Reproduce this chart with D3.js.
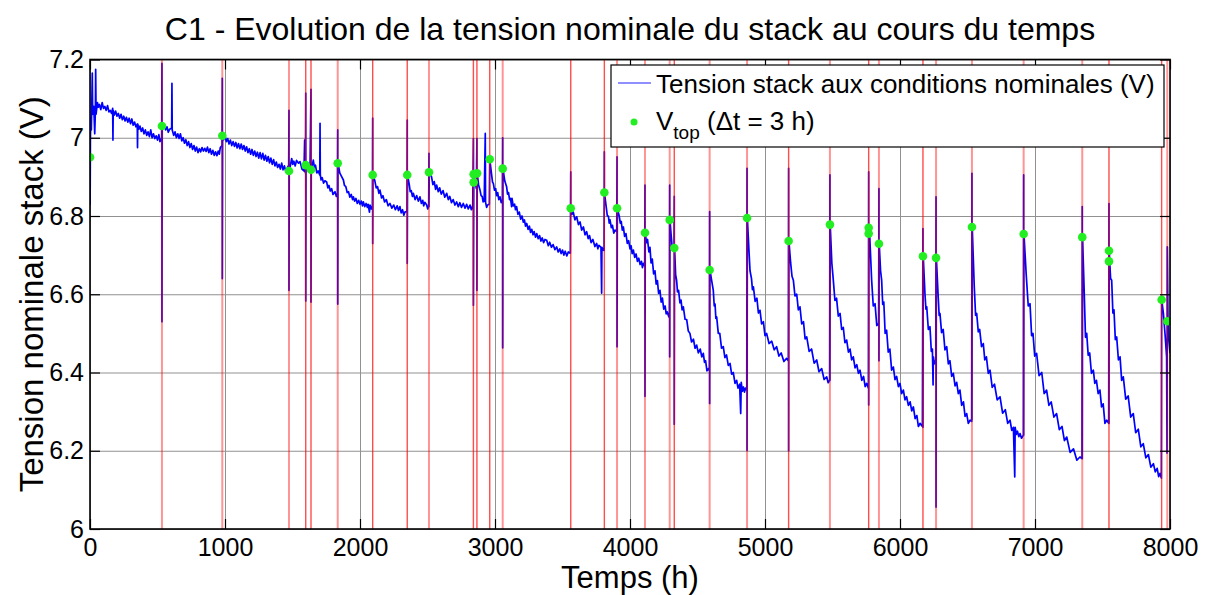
<!DOCTYPE html>
<html>
<head>
<meta charset="utf-8">
<script src="https://cdn.jsdelivr.net/npm/d3@7"></script>
<style>
  body { margin: 0; background: #fff; }
  text { font-family: "Liberation Sans", Arial, sans-serif; fill: #000; }
</style>
</head>
<body>
<div id="chart"></div>
<script>
// stack voltage at nominal conditions, [hours, volts]
const tension = [
  [0, 6.95], [1, 6.83], [3, 7.0], [6, 7.05], [10, 7.02], [17, 7.165], [20, 7.06], [28, 7.08], [35, 7.01], [40, 7.07],
  [42, 7.175], [45, 7.06], [55, 7.09], [62, 7.078], [70, 7.085], [80, 7.072], [90, 7.09], [100, 7.075], [110, 7.08],
  [120, 7.07], [130, 7.082], [140, 7.066], [150, 7.07], [160, 7.062], [168, 7.075],
  [170, 6.994], [172, 7.07], [180, 7.058], [190, 7.068], [200, 7.055], [210, 7.062], [220, 7.05], [230, 7.06],
  [240, 7.046], [250, 7.055], [260, 7.043], [270, 7.052], [280, 7.04], [290, 7.05], [300, 7.036],
  [310, 7.048], [320, 7.032], [330, 7.04], [340, 7.028], [350, 7.035], [352, 6.975], [354, 7.035], [362, 7.022],
  [370, 7.03], [380, 7.016], [390, 7.025], [400, 7.01], [410, 7.02], [420, 7.006],
  [430, 7.015], [440, 7.003], [450, 7.02], [460, 7.0], [470, 7.01], [480, 6.998], [490, 7.005], [500, 6.994],
  [510, 7.008], [518, 6.99], [525, 6.995], [531, 7.0],
  [533, 7.19], [533, 6.53], [535, 7.03],
  [550, 7.035], [560, 7.02], [570, 7.028], [580, 7.014], [590, 7.022], [605, 7.025], [607, 7.139], [609, 7.02],
  [620, 7.006], [630, 7.015], [640, 7.0], [650, 7.01], [660, 6.998],
  [670, 7.01], [680, 6.992], [690, 7.0], [700, 6.986], [710, 6.995], [720, 6.98], [730, 6.99], [740, 6.975],
  [750, 6.985], [760, 6.97], [770, 6.98], [780, 6.966], [790, 6.976], [800, 6.962], [810, 6.972], [820, 6.964],
  [830, 6.975], [840, 6.966], [850, 6.973], [860, 6.965], [870, 6.976], [880, 6.962], [890, 6.972], [900, 6.958],
  [910, 6.968], [920, 6.955], [930, 6.964], [940, 6.954], [950, 6.966], [958, 6.958], [965, 6.975],
  [978, 6.98], [980, 7.152], [980, 6.64], [982, 7.005],
  [990, 6.995], [1000, 7.005], [1010, 6.99], [1020, 6.998], [1030, 6.984], [1040, 6.994], [1050, 6.98],
  [1060, 6.99], [1070, 6.978], [1080, 6.988], [1090, 6.974], [1100, 6.985], [1110, 6.972], [1120, 6.984],
  [1130, 6.97], [1140, 6.98], [1150, 6.966], [1160, 6.977], [1170, 6.962], [1180, 6.972], [1190, 6.958],
  [1200, 6.97], [1210, 6.955], [1220, 6.966], [1230, 6.952], [1240, 6.963], [1250, 6.948], [1260, 6.962],
  [1270, 6.946], [1280, 6.96], [1290, 6.943], [1300, 6.955], [1310, 6.94], [1320, 6.952], [1330, 6.936],
  [1340, 6.948], [1350, 6.932], [1360, 6.944], [1370, 6.928], [1380, 6.938], [1390, 6.924], [1400, 6.932],
  [1410, 6.92], [1420, 6.935], [1430, 6.918], [1440, 6.928], [1450, 6.914], [1460, 6.922], [1472, 6.93],
  [1474, 7.07], [1474, 6.61], [1476, 6.915],
  [1485, 6.93], [1494, 6.947], [1502, 6.932], [1510, 6.94], [1520, 6.928], [1530, 6.942], [1545, 6.935],
  [1556, 6.939], [1570, 6.92], [1585, 6.915], [1590, 6.994], [1592, 6.915], [1596, 6.91],
  [1598, 7.114], [1598, 6.583], [1600, 6.932], [1615, 6.93], [1630, 6.925],
  [1637, 7.124], [1637, 6.58], [1639, 6.918],
  [1654, 6.943], [1662, 6.925], [1670, 6.93], [1680, 6.91], [1690, 6.915], [1702, 6.905], [1704, 7.037],
  [1706, 6.905], [1712, 6.892], [1720, 6.898], [1730, 6.884],
  [1740, 6.89], [1753, 6.887], [1762, 6.872], [1770, 6.878], [1780, 6.864], [1790, 6.87], [1800, 6.855],
  [1815, 6.862], [1825, 6.85], [1833, 6.858],
  [1835, 7.02], [1835, 6.575], [1837, 6.936],
  [1850, 6.91], [1865, 6.9], [1877, 6.892], [1885, 6.878], [1895, 6.875], [1905, 6.86], [1915, 6.862],
  [1925, 6.848], [1935, 6.855], [1945, 6.842], [1951, 6.849], [1960, 6.838],
  [1970, 6.845], [1980, 6.832], [1990, 6.84], [2000, 6.83], [2010, 6.838], [2018, 6.826], [2025, 6.836],
  [2035, 6.824], [2045, 6.832], [2055, 6.822], [2060, 6.83], [2070, 6.81],
  [2074, 6.828], [2084, 6.818], [2092, 6.826],
  [2094, 7.05], [2094, 6.73], [2096, 6.905],
  [2110, 6.89], [2120, 6.872], [2130, 6.875], [2140, 6.858], [2148, 6.866], [2160, 6.846], [2170, 6.852],
  [2182, 6.836], [2195, 6.842], [2208, 6.826], [2222, 6.832], [2236, 6.82], [2250, 6.828],
  [2262, 6.816], [2275, 6.826], [2285, 6.814], [2296, 6.824], [2305, 6.808], [2315, 6.816], [2325, 6.802],
  [2333, 6.81], [2348, 6.812],
  [2350, 7.045], [2350, 6.679], [2352, 6.905],
  [2365, 6.88], [2372, 6.862], [2380, 6.865], [2388, 6.85], [2395, 6.858], [2408, 6.842], [2420, 6.852],
  [2432, 6.838], [2444, 6.849], [2455, 6.832], [2465, 6.84], [2472, 6.826], [2480, 6.835],
  [2494, 6.828], [2502, 6.818], [2509, 6.826],
  [2511, 6.96], [2511, 6.824], [2513, 6.912],
  [2530, 6.9], [2540, 6.88], [2550, 6.888], [2560, 6.868], [2568, 6.879], [2580, 6.862], [2590, 6.872],
  [2602, 6.856], [2615, 6.865], [2628, 6.848], [2642, 6.858], [2654, 6.842], [2665, 6.85], [2678, 6.834],
  [2690, 6.842], [2703, 6.828], [2716, 6.836], [2728, 6.824], [2740, 6.834], [2752, 6.822], [2765, 6.832],
  [2778, 6.82], [2790, 6.83], [2802, 6.818], [2815, 6.828], [2825, 6.816], [2835, 6.826],
  [2840, 6.998], [2840, 6.572], [2843, 6.907], [2848, 6.886], [2855, 6.88], [2862, 6.87],
  [2866, 6.998], [2866, 6.61], [2868, 6.909],
  [2878, 6.88], [2889, 6.866], [2897, 6.852], [2905, 6.85], [2912, 6.836], [2920, 6.838], [2928, 7.011],
  [2930, 6.835], [2938, 6.822], [2945, 6.828],
  [2958, 6.83], [2961, 6.946],
  [2975, 6.905], [2982, 6.886], [2988, 6.883], [2996, 6.866], [3005, 6.87], [3012, 6.852], [3020, 6.86],
  [3028, 6.842], [3037, 6.849], [3046, 6.834], [3055, 6.84],
  [3057, 7.0], [3057, 6.463], [3059, 6.922],
  [3072, 6.89], [3086, 6.875], [3093, 6.856], [3100, 6.86], [3108, 6.842], [3115, 6.845], [3123, 6.824],
  [3126, 6.845], [3135, 6.826], [3145, 6.83], [3152, 6.816],
  [3160, 6.824], [3170, 6.804], [3180, 6.81], [3190, 6.792], [3200, 6.8], [3210, 6.784], [3218, 6.79],
  [3226, 6.774], [3235, 6.781], [3245, 6.766], [3255, 6.774], [3263, 6.758], [3272, 6.766],
  [3282, 6.752], [3290, 6.76], [3300, 6.746], [3309, 6.755], [3320, 6.742], [3330, 6.75], [3340, 6.736],
  [3350, 6.744], [3360, 6.732], [3370, 6.74], [3383, 6.738], [3395, 6.724], [3405, 6.733],
  [3418, 6.72], [3430, 6.727], [3444, 6.714], [3457, 6.721], [3468, 6.708], [3480, 6.716], [3490, 6.704],
  [3500, 6.713], [3510, 6.7], [3520, 6.71], [3532, 6.698], [3543, 6.708], [3558, 6.705],
  [3561, 6.913], [3561, 6.82],
  [3570, 6.804], [3580, 6.81], [3592, 6.79], [3605, 6.798], [3618, 6.778], [3630, 6.785], [3642, 6.764],
  [3655, 6.772], [3667, 6.752], [3679, 6.76], [3690, 6.742], [3700, 6.75], [3712, 6.732], [3725, 6.74],
  [3740, 6.722], [3753, 6.73], [3762, 6.716], [3770, 6.725], [3785, 6.72], [3790, 6.603], [3792, 6.72],
  [3800, 6.713], [3808, 6.712],
  [3810, 6.964], [3810, 6.862],
  [3825, 6.82], [3832, 6.8], [3840, 6.8], [3846, 6.782], [3852, 6.79], [3862, 6.77], [3870, 6.776],
  [3880, 6.756], [3889, 6.764], [3902, 6.76],
  [3904, 6.951], [3904, 6.466], [3906, 6.82],
  [3920, 6.8], [3928, 6.782], [3935, 6.786], [3943, 6.764], [3951, 6.772], [3960, 6.748], [3970, 6.755],
  [3980, 6.73], [3990, 6.737], [4000, 6.716], [4008, 6.724], [4016, 6.704], [4025, 6.713],
  [4035, 6.694], [4045, 6.703], [4055, 6.684], [4065, 6.692], [4075, 6.676], [4085, 6.684], [4092, 6.668],
  [4099, 6.679], [4109, 6.672],
  [4111, 6.879], [4111, 6.339], [4113, 6.757],
  [4122, 6.732], [4130, 6.74], [4140, 6.708], [4148, 6.72], [4156, 6.68], [4165, 6.69], [4175, 6.652],
  [4185, 6.66], [4194, 6.626], [4203, 6.635], [4212, 6.602], [4222, 6.61], [4231, 6.58], [4240, 6.59],
  [4250, 6.562], [4260, 6.57], [4268, 6.55], [4275, 6.555], [4285, 6.545], [4292, 6.54],
  [4294, 6.879], [4294, 6.44], [4296, 6.79], [4305, 6.75], [4312, 6.722], [4318, 6.72], [4326, 6.71],
  [4328, 6.85], [4328, 6.268], [4330, 6.72],
  [4338, 6.65], [4345, 6.636], [4352, 6.606], [4360, 6.61], [4370, 6.578], [4378, 6.585], [4386, 6.56],
  [4395, 6.568], [4408, 6.536], [4420, 6.535], [4432, 6.506], [4444, 6.5], [4456, 6.478], [4470, 6.485],
  [4482, 6.462], [4494, 6.47], [4506, 6.45], [4520, 6.46], [4532, 6.44], [4543, 6.449], [4552, 6.426],
  [4560, 6.43], [4570, 6.404], [4580, 6.41], [4588, 6.405],
  [4590, 6.811], [4590, 6.321], [4592, 6.662],
  [4605, 6.635], [4617, 6.61], [4624, 6.57], [4630, 6.575], [4636, 6.538], [4642, 6.542], [4654, 6.5],
  [4665, 6.5], [4678, 6.462], [4691, 6.466], [4703, 6.438], [4715, 6.445], [4728, 6.418],
  [4741, 6.423], [4753, 6.396], [4765, 6.4], [4778, 6.372], [4790, 6.38], [4800, 6.36], [4812, 6.37],
  [4820, 6.295], [4824, 6.375], [4832, 6.352], [4840, 6.363], [4848, 6.35],
  [4855, 6.36], [4865, 6.355],
  [4867, 6.922], [4867, 6.201], [4869, 6.797],
  [4880, 6.72], [4889, 6.66], [4900, 6.64], [4907, 6.612], [4914, 6.619], [4927, 6.582], [4940, 6.59],
  [4951, 6.552], [4963, 6.559], [4975, 6.524], [4988, 6.53], [5000, 6.494],
  [5012, 6.5], [5030, 6.474], [5050, 6.48], [5068, 6.458], [5086, 6.466], [5103, 6.442], [5120, 6.45],
  [5140, 6.428], [5160, 6.436], [5173, 6.43],
  [5175, 6.922], [5175, 6.2], [5177, 6.737],
  [5190, 6.68], [5200, 6.646], [5210, 6.636], [5222, 6.596], [5235, 6.6], [5247, 6.56], [5259, 6.568],
  [5272, 6.524], [5285, 6.53], [5297, 6.486], [5309, 6.491], [5327, 6.454], [5345, 6.46],
  [5364, 6.424], [5383, 6.432], [5400, 6.402], [5420, 6.41], [5438, 6.382], [5457, 6.389], [5468, 6.374],
  [5479, 6.38],
  [5481, 6.905], [5481, 6.38], [5483, 6.778],
  [5495, 6.68], [5506, 6.636], [5518, 6.584], [5530, 6.59], [5543, 6.544], [5556, 6.551], [5568, 6.51],
  [5580, 6.515], [5592, 6.476], [5605, 6.483], [5618, 6.452], [5630, 6.46], [5642, 6.432],
  [5654, 6.44], [5667, 6.412], [5680, 6.42], [5692, 6.398], [5704, 6.406], [5717, 6.38], [5730, 6.39],
  [5742, 6.364], [5753, 6.372], [5766, 6.36],
  [5768, 6.913], [5768, 6.317], [5770, 6.765], [5775, 6.755],
  [5790, 6.636], [5802, 6.57], [5815, 6.576], [5828, 6.52], [5840, 6.525], [5842, 6.52],
  [5844, 6.87], [5844, 6.43], [5846, 6.73],
  [5856, 6.66], [5864, 6.636], [5872, 6.574], [5880, 6.58], [5890, 6.5], [5901, 6.508], [5913, 6.452],
  [5925, 6.46], [5938, 6.406], [5951, 6.414], [5963, 6.382], [5975, 6.39],
  [5988, 6.364], [6000, 6.372], [6012, 6.346], [6025, 6.355], [6037, 6.33], [6049, 6.338], [6062, 6.316],
  [6075, 6.325], [6087, 6.302], [6099, 6.312], [6112, 6.282], [6125, 6.29], [6136, 6.262], [6148, 6.27],
  [6166, 6.262],
  [6170, 6.768], [6170, 6.26], [6172, 6.698],
  [6185, 6.6], [6192, 6.562], [6198, 6.568], [6210, 6.51], [6222, 6.517], [6232, 6.454], [6240, 6.46],
  [6245, 6.368], [6247, 6.44], [6254, 6.422], [6260, 6.43],
  [6265, 6.425],
  [6267, 6.849], [6267, 6.056], [6269, 6.695],
  [6282, 6.6], [6290, 6.546], [6296, 6.551], [6308, 6.502], [6320, 6.51], [6333, 6.458], [6346, 6.466],
  [6358, 6.422], [6370, 6.43], [6383, 6.39], [6395, 6.398], [6408, 6.366], [6420, 6.375],
  [6432, 6.346], [6444, 6.355], [6457, 6.316], [6470, 6.325], [6482, 6.288], [6494, 6.295], [6506, 6.27],
  [6519, 6.278], [6531, 6.275],
  [6533, 6.909], [6533, 6.28], [6535, 6.773],
  [6550, 6.62], [6560, 6.546], [6568, 6.551], [6580, 6.504], [6590, 6.51], [6604, 6.466], [6617, 6.474],
  [6628, 6.432], [6640, 6.44], [6654, 6.398], [6667, 6.406], [6683, 6.362], [6700, 6.37],
  [6720, 6.33], [6741, 6.338], [6760, 6.296], [6780, 6.305], [6798, 6.27], [6815, 6.278], [6828, 6.252],
  [6840, 6.26], [6850, 6.133], [6853, 6.26], [6862, 6.242], [6870, 6.25], [6880, 6.236],
  [6889, 6.244], [6900, 6.232], [6914, 6.24],
  [6916, 6.905], [6916, 6.24], [6918, 6.755],
  [6935, 6.65], [6950, 6.57], [6963, 6.576], [6975, 6.494], [6985, 6.5], [6998, 6.442], [7012, 6.449],
  [7030, 6.392], [7050, 6.4], [7068, 6.346], [7086, 6.355], [7103, 6.316], [7120, 6.325],
  [7140, 6.286], [7160, 6.295], [7180, 6.254], [7200, 6.262], [7218, 6.226], [7235, 6.235], [7260, 6.196],
  [7285, 6.205], [7310, 6.176], [7333, 6.184], [7348, 6.18],
  [7350, 6.824], [7350, 6.18], [7352, 6.748],
  [7365, 6.6], [7374, 6.49], [7383, 6.5], [7394, 6.444], [7405, 6.45], [7418, 6.398], [7432, 6.406],
  [7443, 6.372], [7455, 6.38], [7468, 6.346], [7481, 6.355], [7493, 6.312], [7505, 6.32],
  [7518, 6.27], [7531, 6.278], [7546, 6.27],
  [7548, 6.832], [7548, 6.27], [7550, 6.712], [7553, 6.685],
  [7560, 6.64], [7568, 6.636], [7577, 6.552], [7585, 6.56], [7595, 6.484], [7605, 6.491], [7618, 6.432],
  [7630, 6.44], [7642, 6.38], [7654, 6.389], [7672, 6.332], [7690, 6.34], [7709, 6.286], [7728, 6.295],
  [7746, 6.246], [7765, 6.255], [7784, 6.21], [7802, 6.218], [7821, 6.182], [7840, 6.19], [7858, 6.158],
  [7877, 6.167], [7891, 6.146], [7905, 6.155], [7916, 6.134], [7926, 6.142], [7936, 6.13],
  [7938, 6.588], [7951, 6.551], [7965, 6.49], [7975, 6.44], [7978, 6.194],
  [7980, 6.721], [7985, 6.532], [7992, 6.48], [8000, 6.45]
];

// V_top markers (first value 3 h after each restart)
const vtopT = [0, 533, 980, 1474, 1598, 1637, 1835, 2094, 2350, 2511, 2842, 2842, 2867, 2961, 3057,
  3561, 3810, 3904, 4111, 4294, 4328, 4590, 4867, 5175, 5481, 5768, 5768, 5844, 6170, 6267, 6533,
  6916, 7350, 7548, 7548, 7938, 7980];
const vtopV = [6.95, 7.03, 7.005, 6.915, 6.93, 6.918, 6.935, 6.905, 6.905, 6.912, 6.907, 6.886, 6.909,
  6.945, 6.921, 6.82, 6.86, 6.82, 6.757, 6.79, 6.718, 6.662, 6.795, 6.736, 6.778, 6.77, 6.755, 6.729,
  6.697, 6.693, 6.772, 6.754, 6.746, 6.711, 6.684, 6.586, 6.531];

// stop / restart events (red vertical lines)
const stopsT = [533, 980, 1474, 1835, 2511, 3057, 3904, 4111, 4294, 4590, 4867, 5481, 5844, 6267,
  6533, 6916, 7350, 7980];
const stopsStrongT = [1598, 1637, 2094, 2350, 2840, 2866, 2961, 3561, 3810, 4328, 5175, 5768, 6170,
  7548, 7938];

const xTicks = [0, 1000, 2000, 3000, 4000, 5000, 6000, 7000, 8000];
const yTicks = [6, 6.2, 6.4, 6.6, 6.8, 7, 7.2];

const W = 1205, H = 595;
const m = { left: 90, right: 1170, top: 59.5, bottom: 529 };
const FONT = "Liberation Sans, Arial, sans-serif";

const svg = d3.select("#chart").append("svg")
  .attr("width", W).attr("height", H);

const x = d3.scaleLinear().domain([0, 8000]).range([m.left, m.right]);
const y = d3.scaleLinear().domain([6, 7.2]).range([m.bottom, m.top]);

svg.append("defs").append("clipPath").attr("id", "plot")
  .append("rect")
  .attr("x", m.left).attr("y", m.top)
  .attr("width", m.right - m.left).attr("height", m.bottom - m.top);

// grid
svg.append("g")
  .attr("class", "grid")
  .attr("transform", `translate(0,${m.bottom})`)
  .call(d3.axisBottom(x).tickValues(xTicks).tickSize(-(m.bottom - m.top)).tickFormat(""))
  .call(g => g.select(".domain").remove());
svg.append("g")
  .attr("class", "grid")
  .attr("transform", `translate(${m.left},0)`)
  .call(d3.axisLeft(y).tickValues(yTicks).tickSize(-(m.right - m.left)).tickFormat(""))
  .call(g => g.select(".domain").remove());
svg.selectAll(".grid line").attr("stroke", "#919191").attr("stroke-width", 1);

const plot = svg.append("g").attr("clip-path", "url(#plot)");

plot.append("path")
  .datum(tension)
  .attr("fill", "none")
  .attr("stroke", "#0000ff")
  .attr("stroke-width", 1.7)
  .attr("stroke-linejoin", "round")
  .attr("d", d3.line().x(d => x(d[0])).y(d => y(d[1])));

plot.selectAll(".stop")
  .data(stopsT)
  .join("line")
  .attr("class", "stop")
  .attr("x1", d => x(d)).attr("x2", d => x(d))
  .attr("y1", m.top).attr("y2", m.bottom)
  .attr("stroke", "#ff0000").attr("stroke-opacity", 0.42).attr("stroke-width", 2);

plot.selectAll(".stop-strong")
  .data(stopsStrongT)
  .join("line")
  .attr("class", "stop-strong")
  .attr("x1", d => x(d)).attr("x2", d => x(d))
  .attr("y1", m.top).attr("y2", m.bottom)
  .attr("stroke", "#ff0000").attr("stroke-opacity", 0.7).attr("stroke-width", 1.4);

plot.selectAll(".vtop")
  .data(vtopT)
  .join("circle")
  .attr("class", "vtop")
  .attr("cx", d => x(d))
  .attr("cy", (d, i) => y(vtopV[i]))
  .attr("r", 4.3)
  .attr("fill", "#22ee22");

// frame + inward ticks on all four sides
svg.append("rect")
  .attr("x", m.left).attr("y", m.top)
  .attr("width", m.right - m.left).attr("height", m.bottom - m.top)
  .attr("fill", "none").attr("stroke", "#000").attr("stroke-width", 1.6);

const fmtY = d => String(+d.toFixed(1));

const ticks = svg.append("g").attr("class", "ticks");
ticks.append("g")
  .attr("transform", `translate(0,${m.bottom})`)
  .call(d3.axisBottom(x).tickValues(xTicks).tickSize(-10).tickPadding(9).tickFormat(d3.format("d")));
ticks.append("g")
  .attr("transform", `translate(0,${m.top})`)
  .call(d3.axisTop(x).tickValues(xTicks).tickSize(-10).tickFormat(""));
ticks.append("g")
  .attr("transform", `translate(${m.left},0)`)
  .call(d3.axisLeft(y).tickValues(yTicks).tickSize(-10).tickPadding(6).tickFormat(fmtY));
ticks.append("g")
  .attr("transform", `translate(${m.right},0)`)
  .call(d3.axisRight(y).tickValues(yTicks).tickSize(-10).tickFormat(""));
ticks.selectAll(".domain").remove();
ticks.selectAll("line").attr("stroke", "#000").attr("stroke-width", 1.2);
ticks.selectAll("text").attr("font-size", 25).attr("font-family", FONT);

// titles
svg.append("text")
  .attr("x", (m.left + m.right) / 2).attr("y", 40)
  .attr("text-anchor", "middle").attr("font-size", 32)
  .text("C1 - Evolution de la tension nominale du stack au cours du temps");
svg.append("text")
  .attr("x", (m.left + m.right) / 2).attr("y", 588)
  .attr("text-anchor", "middle").attr("font-size", 31)
  .text("Temps (h)");
svg.append("text")
  .attr("transform", `translate(43,${(m.top + m.bottom) / 2}) rotate(-90)`)
  .attr("text-anchor", "middle").attr("font-size", 33)
  .text("Tension nominale stack (V)");

// legend
const lg = svg.append("g");
lg.append("rect")
  .attr("x", 611).attr("y", 65).attr("width", 553).attr("height", 82)
  .attr("fill", "#fff").attr("stroke", "#000").attr("stroke-width", 1.2);
lg.append("line")
  .attr("x1", 618).attr("x2", 651).attr("y1", 83).attr("y2", 83)
  .attr("stroke", "#6a6aff").attr("stroke-width", 1.5);
lg.append("text")
  .attr("x", 656).attr("y", 93).attr("font-size", 26)
  .text("Tension stack aux conditions nominales (V)");
lg.append("circle")
  .attr("cx", 634).attr("cy", 122).attr("r", 3.5).attr("fill", "#22ee22");
const t2 = lg.append("text").attr("x", 656).attr("y", 130).attr("font-size", 26);
t2.append("tspan").text("V");
t2.append("tspan").attr("font-size", 19).attr("dy", 9).text("top");
t2.append("tspan").attr("dy", -9).text(" (\u0394t = 3 h)");
</script>
</body>
</html>
